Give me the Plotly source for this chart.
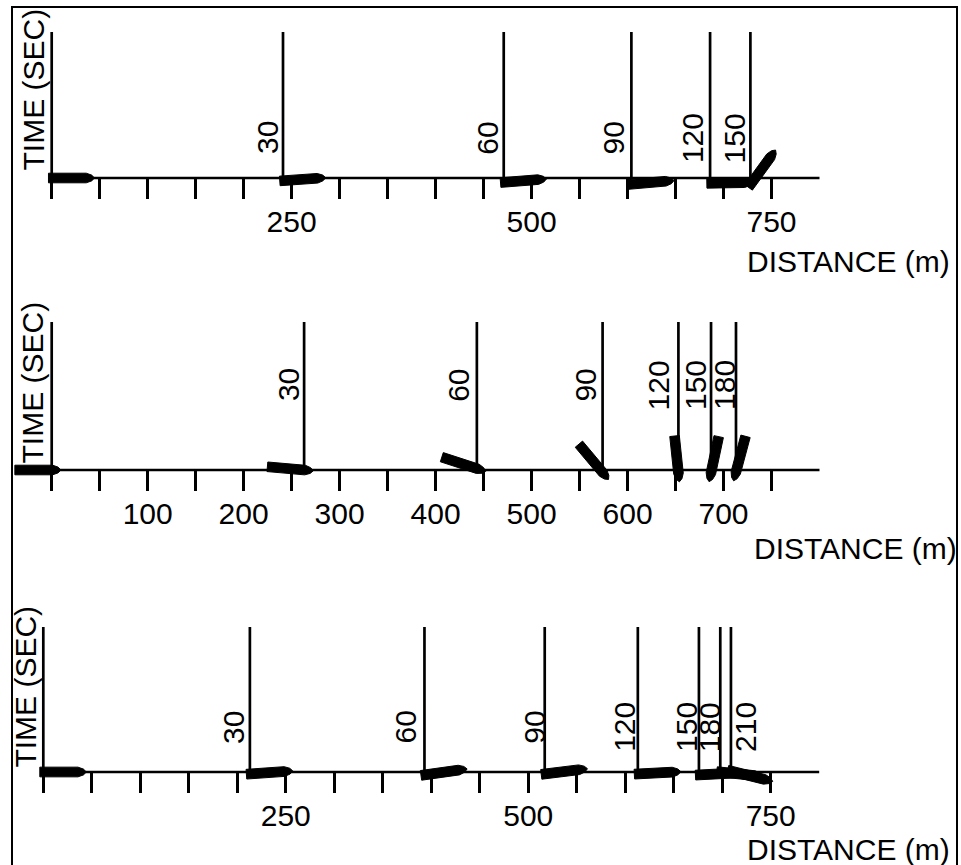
import math
import plotly.graph_objects as go

# ------------------------------------------------------------------ data
tick_values = [0, 50, 100, 150, 200, 250, 300, 350, 400, 450, 500, 550, 600, 650, 700, 750]
axis_end_m = 800

p1_tick_labels = [250, 500, 750]
p1_times = [0, 30, 60, 90, 120, 150]
p1_dist = [0, 241, 471, 604, 686, 728]
p1_heading = [0, 4, 4.5, 5, 1, 54]
p1_lateral = [0, -2.8, -4.5, -6.5, -5.5, -7]

p2_tick_labels = [100, 200, 300, 400, 500, 600, 700]
p2_times = [0, 30, 60, 90, 120, 150, 180]
p2_dist = [0, 263, 443, 574, 653, 687, 713]
p2_heading = [0, -5, -18, -50, -84, -102, -105]
p2_lateral = [0, 0, 1.5, -2.5, -2.8, -2.8, -2]

p3_tick_labels = [250, 500, 750]
p3_times = [0, 30, 60, 90, 120, 150, 180, 210]
p3_dist = [0, 213, 393, 517, 613, 676, 698, 709]
p3_heading = [0, 4, 8, 7, 3, 3, -6, -14]
p3_lateral = [0, -2, -3, -2, -2, -3, 0, 1]

ship_length_m = 48
ship_beam_m = 10

# ------------------------------------------------------------------ layout / style
W, H = 961, 865
FONT = "Liberation Sans, Arial, sans-serif"
FS = 30

panels = [
    dict(times=p1_times, dist=p1_dist, heading=p1_heading, lateral=p1_lateral,
         labels=p1_tick_labels, x0px=51.7, x750px=771.5, axis_px=178, dom=(0, 290),
         line_top_px=32, label_px=138, ref_frac=0.07,
         label_dx=[-16, -16, -17, -18, -18, -16],
         time_title=(32.5, 90), dist_title=(746, 261.5)),
    dict(times=p2_times, dist=p2_dist, heading=p2_heading, lateral=p2_lateral,
         labels=p2_tick_labels, x0px=51.7, x750px=771.5, axis_px=470, dom=(290, 580),
         line_top_px=322, label_px=385, ref_frac=0.8,
         label_dx=[-16, -15, -18, -17, -19, -15, -11],
         time_title=(32.5, 383), dist_title=(753, 548)),
    dict(times=p3_times, dist=p3_dist, heading=p3_heading, lateral=p3_lateral,
         labels=p3_tick_labels, x0px=43.3, x750px=770.7, axis_px=772, dom=(580, 865),
         line_top_px=627, label_px=727, ref_frac=0.075,
         label_dx=[-16, -17, -19, -11, -14, -13, -11, 14],
         time_title=(24.6, 687), dist_title=(746, 849)),
]


def ship_polygon(xr, yr, hdg, frac, L, B):
    a = math.radians(hdg)
    ux, uy = math.cos(a), math.sin(a)
    vx, vy = -uy, ux
    sx, sy = xr - frac * L * ux, yr - frac * L * uy
    t = 0.18 * L
    local = [(0, -B / 2), (L - t, -B / 2), (L - 0.35 * t, -B * 0.3), (L, 0),
             (L - 0.35 * t, B * 0.3), (L - t, B / 2), (0, B / 2), (0, -B / 2)]
    xs = [sx + p * ux + q * vx for p, q in local]
    ys = [sy + p * uy + q * vy for p, q in local]
    return xs, ys


fig = go.Figure()
annotations = []
layout_axes = {}

for i, pn in enumerate(panels, start=1):
    xa = "x" if i == 1 else f"x{i}"
    ya = "y" if i == 1 else f"y{i}"
    s = (pn["x750px"] - pn["x0px"]) / 750.0  # px per metre
    xlo = -pn["x0px"] / s
    xhi = (W - pn["x0px"]) / s
    top, bot = pn["dom"]
    yhi = (pn["axis_px"] - top) / s
    ylo = -(bot - pn["axis_px"]) / s

    ticktext = [str(v) if v in pn["labels"] else "" for v in tick_values]
    layout_axes["xaxis" if i == 1 else f"xaxis{i}"] = dict(
        domain=[0, 1], range=[xlo, xhi], anchor="free", position=1 - pn["axis_px"] / H,
        tickvals=tick_values, ticktext=ticktext, ticks="outside", ticklen=20,
        tickwidth=3, tickcolor="black", showline=False, showgrid=False, zeroline=False,
        ticklabelstandoff=-3,
        tickfont=dict(family=FONT, size=FS, color="black"), fixedrange=True)
    layout_axes["yaxis" if i == 1 else f"yaxis{i}"] = dict(
        domain=[1 - bot / H, 1 - top / H], range=[ylo, yhi], anchor=xa,
        visible=False, fixedrange=True)

    # distance axis line
    fig.add_trace(go.Scatter(x=[0, axis_end_m], y=[0, 0], mode="lines",
                             line=dict(color="black", width=2.7), xaxis=xa, yaxis=ya,
                             showlegend=False, hoverinfo="skip"))

    # time marker lines
    line_top_m = (pn["axis_px"] - pn["line_top_px"]) / s
    vx, vy = [], []
    for d in pn["dist"]:
        vx += [d, d, None]
        vy += [0, line_top_m, None]
    fig.add_trace(go.Scatter(x=vx, y=vy, mode="lines",
                             line=dict(color="black", width=2.7), xaxis=xa, yaxis=ya,
                             showlegend=False, hoverinfo="skip"))

    # ships
    for d, hd, lat in zip(pn["dist"], pn["heading"], pn["lateral"]):
        xs, ys = ship_polygon(d, lat, hd, pn["ref_frac"], ship_length_m, ship_beam_m)
        fig.add_trace(go.Scatter(x=xs, y=ys, mode="lines", fill="toself",
                                 fillcolor="black", line=dict(color="black", width=1),
                                 xaxis=xa, yaxis=ya, showlegend=False, hoverinfo="skip"))

    # time labels
    label_m = (pn["axis_px"] - pn["label_px"]) / s
    for t, d, dx in zip(pn["times"], pn["dist"], pn["label_dx"]):
        if t == 0:
            continue
        annotations.append(dict(x=d, y=label_m, xref=xa, yref=ya, text=str(t),
                                textangle=-90, showarrow=False, xanchor="center",
                                yanchor="middle", xshift=dx, borderpad=0,
                                font=dict(family=FONT, size=FS, color="black")))

    # axis titles
    tx, ty = pn["time_title"]
    annotations.append(dict(x=tx / W, y=1 - ty / H, xref="paper", yref="paper",
                            text="TIME (SEC)", textangle=-90, showarrow=False,
                            xanchor="center", yanchor="middle", borderpad=0,
                            font=dict(family=FONT, size=FS, color="black")))
    dx_, dy_ = pn["dist_title"]
    annotations.append(dict(x=dx_ / W, y=1 - dy_ / H, xref="paper", yref="paper",
                            text="DISTANCE (m)", showarrow=False,
                            xanchor="left", yanchor="middle", borderpad=0,
                            font=dict(family=FONT, size=FS, color="black")))

fig.update_layout(
    width=W, height=H, margin=dict(l=0, r=0, t=0, b=0),
    paper_bgcolor="white", plot_bgcolor="white",
    annotations=annotations,
    shapes=[dict(type="rect", xref="paper", yref="paper",
                 x0=12 / W, x1=957 / W, y0=1 - 7 / H, y1=-0.05,
                 line=dict(color="black", width=2), fillcolor="rgba(0,0,0,0)")],
    **layout_axes,
)

fig.write_html("out.html")
